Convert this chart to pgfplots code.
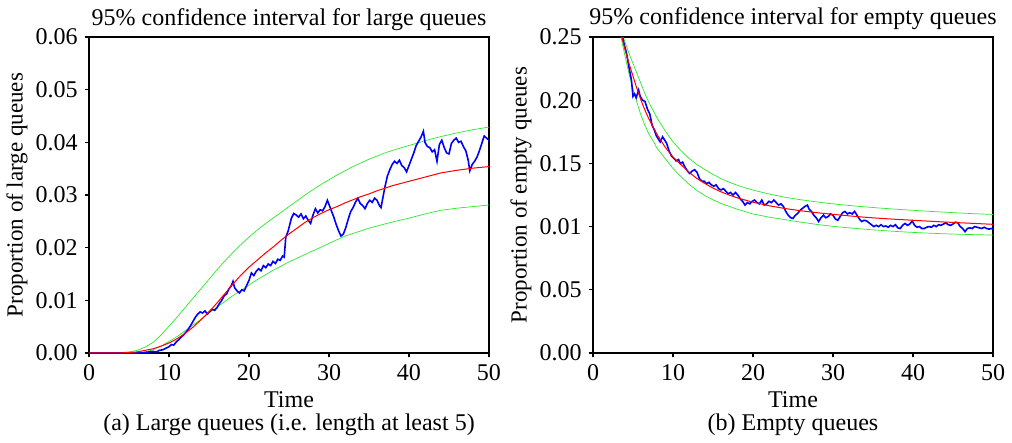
\documentclass[border=0pt]{standalone}
\usepackage{fontspec}
\setmainfont{Liberation Serif}
\usepackage{pgfplots}
\pgfplotsset{compat=1.18}
\definecolor{cired}{RGB}{255,0,0}
\definecolor{ciblue}{RGB}{0,0,255}
\definecolor{cigreen}{RGB}{40,235,40}
\pgfplotsset{
  panel/.style={
    scale only axis, width=200pt, height=158pt,
    xmin=0, xmax=50, xtick={0,10,20,30,40,50},
    scaled y ticks=false,
    tick align=outside, xtick pos=bottom, ytick pos=left,
    major tick length=2.2pt,
    axis line style={line width=0.6pt},
    every tick/.style={black, line width=0.6pt},
    /pgf/number format/assume math mode=true,
    tick label style={font=\fontsize{12}{14}\selectfont},
    xlabel style={font=\fontsize{12}{14}\selectfont, at={(axis description cs:0.5,-0.171)}, anchor=base},
    ylabel style={font=\fontsize{11.5}{14}\selectfont, at={(axis description cs:-0.18,0.5)}, anchor=center},
    title style={font=\fontsize{12}{14}\selectfont, at={(axis description cs:0.5,1)}, anchor=base},
    clip=false,
  },
  redl/.style={cired, line width=0.5pt},
  greenl/.style={cigreen, line width=0.35pt},
  bluel/.style={ciblue, line width=0.8pt},
}
\begin{document}
\begin{tikzpicture}
\begin{axis}[panel,
  ymin=0, ymax=0.06, ytick={0,0.01,0.02,0.03,0.04,0.05,0.06},
  yticklabels={0.00,0.01,0.02,0.03,0.04,0.05,0.06},
  title={95\% confidence interval for large queues},
  xlabel={Time}, ylabel={Proportion of large queues}]
\addplot[greenl] coordinates {(0,0) (4,0.0001) (5,0.0002) (6,0.0005) (7,0.0011) (8,0.002) (9,0.0034) (10,0.0051) (11,0.0068) (12,0.0086) (13,0.0104) (14,0.0122) (15,0.0140) (16,0.0158) (17,0.0175) (18,0.0191) (19,0.0206) (20,0.0220) (21,0.0233) (22,0.0245) (23,0.0256) (24,0.0267) (25,0.0278) (26,0.0289) (27,0.0300) (28,0.0310) (29,0.0320) (30,0.0329) (31,0.0338) (32,0.0346) (33,0.0354) (34,0.0361) (35,0.0368) (36,0.0374) (37,0.0380) (38,0.0385) (40,0.0394) (42,0.0403) (44,0.0411) (46,0.0418) (48,0.0424) (50,0.0429)};
\addplot[greenl] coordinates {(0,0) (6,0) (7,0.0002) (8,0.0006) (9,0.0013) (10,0.0022) (11,0.0031) (12,0.0042) (13,0.0053) (14,0.0064) (15,0.0076) (16,0.0087) (17,0.0098) (18,0.0109) (19,0.0119) (20,0.0129) (21,0.0139) (22,0.0148) (23,0.0157) (24,0.0165) (25,0.0173) (26,0.0180) (27,0.0187) (28,0.0194) (29,0.0201) (30,0.0208) (31,0.0215) (32,0.0222) (33,0.0227) (34,0.0232) (35,0.0237) (36,0.0241) (37,0.0245) (38,0.0249) (40,0.0256) (42,0.0264) (44,0.0271) (46,0.0275) (48,0.0278) (50,0.0281)};
\addplot[bluel] coordinates {(0,0) (2,0) (4,0) (6,0) (7,0.0001) (7.5,0.0002) (8,0.0003) (8.4,0.0002) (8.8,0.0005) (9.2,0.0006) (9.6,0.0009) (10,0.0012) (10.3,0.0016) (10.6,0.0015) (10.9,0.0021) (11.2,0.0025) (11.5,0.0030) (11.8,0.0034) (12.1,0.0039) (12.4,0.0045) (12.7,0.0052) (13.0,0.0060) (13.3,0.0068) (13.6,0.0074) (13.9,0.0078) (14.2,0.0076) (14.5,0.0080) (14.8,0.0074) (15.1,0.0079) (15.4,0.0083) (15.7,0.0081) (16.0,0.0086) (16.3,0.0094) (16.6,0.0100) (16.9,0.0109) (17.2,0.0112) (17.5,0.0122) (17.8,0.0128) (18.0,0.0136) (18.2,0.0124) (18.5,0.0118) (18.8,0.0114) (19.1,0.0120) (19.4,0.0118) (19.7,0.0128) (20.0,0.0138) (20.3,0.0152) (20.6,0.0147) (20.9,0.0155) (21.2,0.0160) (21.5,0.0156) (21.8,0.0166) (22.1,0.0162) (22.4,0.0169) (22.7,0.0166) (23.0,0.0174) (23.3,0.0170) (23.6,0.0178) (23.9,0.0176) (24.2,0.0184) (24.4,0.0182) (24.6,0.0220) (24.9,0.0232) (25.1,0.0244) (25.3,0.0256) (25.6,0.0265) (25.9,0.0262) (26.2,0.0258) (26.5,0.0264) (26.8,0.0255) (27.1,0.0260) (27.4,0.0252) (27.7,0.0246) (28.0,0.0262) (28.3,0.0274) (28.6,0.0266) (28.9,0.0272) (29.2,0.0270) (29.5,0.0278) (29.8,0.0290) (30.0,0.0282) (30.3,0.0270) (30.6,0.0258) (30.9,0.0244) (31.2,0.0232) (31.5,0.0222) (31.8,0.0226) (32.1,0.0238) (32.4,0.0254) (32.7,0.0268) (33.0,0.0276) (33.3,0.0286) (33.6,0.0294) (33.9,0.0284) (34.2,0.0280) (34.5,0.0274) (34.8,0.0284) (35.1,0.0290) (35.4,0.0286) (35.7,0.0294) (36.0,0.0290) (36.3,0.0280) (36.5,0.0276) (36.8,0.0300) (37.0,0.0316) (37.3,0.0336) (37.6,0.0348) (37.9,0.0358) (38.2,0.0364) (38.5,0.0360) (38.8,0.0366) (39.1,0.0356) (39.4,0.0352) (39.7,0.0344) (40.0,0.0356) (40.3,0.0368) (40.6,0.0380) (40.9,0.0394) (41.2,0.0402) (41.5,0.0410) (41.8,0.0421) (42.0,0.0400) (42.3,0.0392) (42.6,0.0390) (42.9,0.0382) (43.2,0.0386) (43.5,0.0364) (43.8,0.0396) (44.1,0.0404) (44.4,0.0390) (44.7,0.0380) (45.0,0.0378) (45.3,0.0398) (45.6,0.0404) (45.9,0.0408) (46.2,0.0400) (46.5,0.0402) (46.8,0.0392) (47.1,0.0384) (47.4,0.0366) (47.6,0.0346) (47.9,0.0358) (48.2,0.0364) (48.5,0.0372) (48.8,0.0384) (49.1,0.0398) (49.4,0.0412) (49.7,0.0408) (50.0,0.0404)};
\addplot[redl] coordinates {(0,0) (2,0) (4,0.00003) (5,0.0001) (6,0.0002) (7,0.0005) (8,0.0008) (9,0.0013) (10,0.0019) (11,0.0027) (12,0.0037) (13,0.0049) (14,0.0063) (15,0.0078) (16,0.0095) (17,0.0113) (18,0.0131) (19,0.0148) (20,0.0163) (21,0.0176) (22,0.0189) (23,0.0201) (24,0.0214) (25,0.0226) (26,0.0237) (27,0.0248) (28,0.0257) (29,0.0265) (30,0.0272) (31,0.0278) (32,0.0285) (33,0.0291) (34,0.0297) (35,0.0302) (36,0.0308) (37,0.0313) (38,0.0318) (40,0.0326) (42,0.0334) (44,0.0342) (46,0.0347) (48,0.0351) (50,0.0354)};
\node[font=\fontsize{12}{14}\selectfont, anchor=base] at (axis description cs:0.5,-0.2437) {(a) Large queues (i.e. length at least 5)};
\end{axis}
\begin{axis}[panel, at={(252pt,0)},
  ymin=0, ymax=0.25, ytick={0,0.05,0.10,0.15,0.20,0.25},
  yticklabels={0.00,0.05,0.01,0.15,0.20,0.25},
  title={95\% confidence interval for empty queues},
  xlabel={Time}, ylabel={Proportion of empty queues}]
\addplot[greenl] coordinates {(3.8,0.250) (4,0.246) (4.5,0.237) (5,0.229) (5.5,0.221) (6,0.213) (6.5,0.205) (7,0.198) (7.5,0.192) (8,0.186) (9,0.176) (10,0.167) (11,0.160) (12,0.154) (13,0.149) (14,0.145) (15,0.1413) (16,0.138) (17,0.1352) (18,0.1328) (19,0.1307) (20,0.1289) (22,0.1258) (24,0.1232) (26,0.1212) (28,0.1195) (30,0.118) (32,0.1167) (34,0.1156) (36,0.1146) (38,0.1137) (40,0.1129) (42,0.1121) (44,0.1114) (46,0.1107) (48,0.1101) (50,0.1096)};
\addplot[greenl] coordinates {(3.5,0.250) (4,0.235) (4.5,0.221) (5,0.209) (5.5,0.198) (6,0.188) (6.5,0.180) (7,0.173) (7.5,0.168) (8,0.162) (9,0.154) (10,0.146) (11,0.1395) (12,0.1335) (13,0.1285) (14,0.1245) (15,0.1212) (16,0.1183) (18,0.1138) (20,0.1100) (22,0.1075) (24,0.1055) (26,0.1035) (28,0.1017) (30,0.1002) (32,0.0990) (34,0.0979) (36,0.0970) (38,0.0961) (40,0.0954) (42,0.0948) (44,0.0943) (46,0.0939) (48,0.0936) (50,0.0933)};
\addplot[bluel] coordinates {(3.7,0.250) (3.9,0.244) (4.2,0.237) (4.5,0.226) (4.8,0.216) (5.0,0.203) (5.2,0.205) (5.4,0.202) (5.7,0.208) (5.9,0.203) (6.2,0.200) (6.5,0.199) (6.8,0.193) (7.1,0.189) (7.4,0.180) (7.7,0.176) (7.9,0.172) (8.1,0.170) (8.4,0.167) (8.7,0.171) (9.0,0.168) (9.2,0.166) (9.5,0.160) (9.8,0.156) (10.1,0.154) (10.4,0.152) (10.7,0.153) (10.9,0.150) (11.2,0.151) (11.5,0.147) (11.8,0.144) (12.1,0.142) (12.4,0.144) (12.7,0.145) (13.0,0.143) (13.3,0.138) (13.6,0.136) (13.9,0.136) (14.2,0.134) (14.5,0.135) (14.8,0.133) (15.1,0.132) (15.4,0.133) (15.7,0.130) (16.0,0.129) (16.3,0.130) (16.6,0.128) (16.9,0.126) (17.2,0.127) (17.5,0.125) (17.8,0.127) (18.1,0.125) (18.4,0.122) (18.7,0.120) (19.0,0.117) (19.3,0.119) (19.6,0.118) (19.9,0.120) (20.2,0.121) (20.5,0.119) (20.8,0.118) (21.1,0.121) (21.4,0.117) (21.7,0.118) (22.0,0.120) (22.3,0.119) (22.6,0.121) (22.9,0.119) (23.2,0.117) (23.5,0.118) (23.8,0.116) (24.1,0.112) (24.4,0.109) (24.7,0.107) (25.0,0.1065) (25.3,0.109) (25.6,0.1105) (25.9,0.113) (26.2,0.1145) (26.5,0.116) (26.8,0.117) (27.0,0.114) (27.3,0.112) (27.6,0.109) (27.9,0.107) (28.2,0.104) (28.5,0.107) (28.8,0.109) (29.1,0.107) (29.4,0.108) (29.7,0.110) (30.0,0.109) (30.3,0.106) (30.6,0.105) (30.9,0.108) (31.2,0.111) (31.5,0.112) (31.8,0.110) (32.1,0.111) (32.4,0.110) (32.7,0.112) (33.0,0.109) (33.3,0.106) (33.6,0.104) (33.9,0.105) (34.2,0.1045) (34.5,0.103) (34.8,0.1015) (35.1,0.100) (35.4,0.101) (35.7,0.100) (36.0,0.1015) (36.3,0.100) (36.6,0.1005) (36.9,0.0995) (37.2,0.101) (37.5,0.100) (37.8,0.1015) (38.1,0.099) (38.4,0.0985) (38.7,0.101) (39.0,0.1025) (39.3,0.101) (39.6,0.102) (39.9,0.1045) (40.2,0.101) (40.5,0.0995) (40.8,0.100) (41.1,0.0985) (41.4,0.0985) (41.7,0.0995) (42.0,0.100) (42.3,0.0995) (42.6,0.101) (42.9,0.100) (43.2,0.1015) (43.5,0.101) (43.8,0.102) (44.1,0.103) (44.4,0.1015) (44.7,0.101) (45.0,0.102) (45.3,0.1035) (45.6,0.103) (45.9,0.100) (46.2,0.0985) (46.5,0.096) (46.8,0.0985) (47.1,0.099) (47.4,0.0985) (47.7,0.100) (48.0,0.0995) (48.3,0.099) (48.6,0.0985) (48.9,0.0995) (49.2,0.0985) (49.5,0.098) (49.8,0.0985) (50.0,0.098)};
\addplot[redl] coordinates {(3.6,0.250) (4,0.240) (4.5,0.229) (5,0.219) (5.5,0.209) (6,0.200) (6.5,0.192) (7,0.185) (7.5,0.179) (8,0.173) (9,0.163) (10,0.155) (11,0.149) (12,0.143) (13,0.138) (14,0.134) (15,0.1305) (16,0.1275) (17,0.125) (18,0.1228) (19,0.121) (20,0.1193) (22,0.1165) (24,0.1143) (26,0.1125) (28,0.111) (30,0.1097) (32,0.1085) (34,0.1074) (36,0.1065) (38,0.1057) (40,0.105) (42,0.1043) (44,0.1036) (46,0.103) (48,0.1024) (50,0.1018)};
\node[font=\fontsize{12}{14}\selectfont, anchor=base] at (axis description cs:0.5,-0.2437) {(b) Empty queues};
\end{axis}
\pgfresetboundingbox
\path (-44.5pt,-45pt) rectangle (461.5pt,176.5pt);
\end{tikzpicture}
\end{document}
